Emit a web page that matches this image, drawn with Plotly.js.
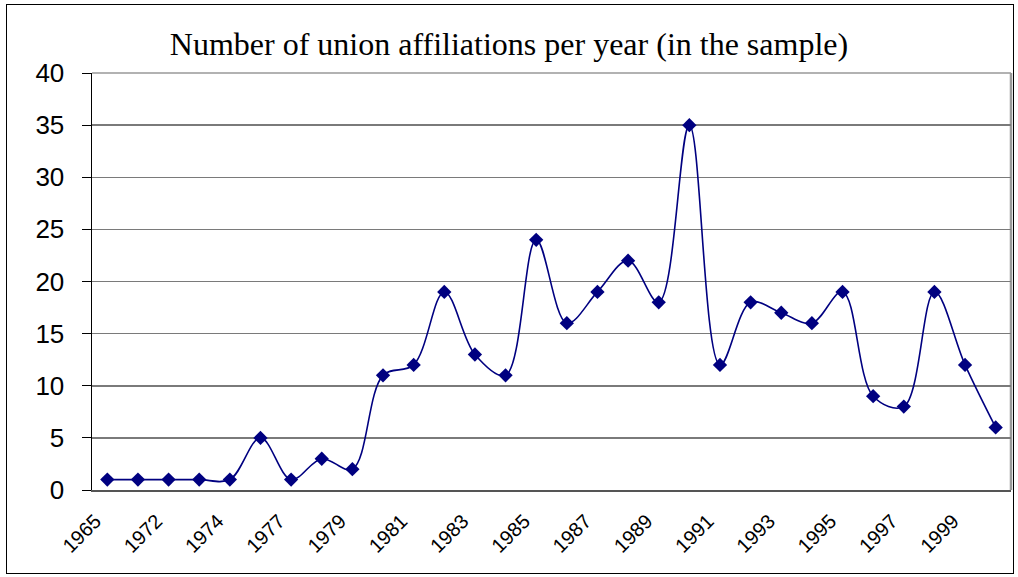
<!DOCTYPE html>
<html>
<head>
<meta charset="utf-8">
<script src="https://cdn.plot.ly/plotly-3.0.1.min.js"></script>
<style>
  html, body { margin: 0; padding: 0; background: #fff; }
  #wrap { position: relative; width: 1018px; height: 577px; }
  #chart { position: absolute; left: 0; top: 0; width: 1018px; height: 577px; }
  #frame { position: absolute; left: 6px; top: 4px; width: 1006px; height: 568px; border: 1.5px solid #000; pointer-events: none; }
</style>
</head>
<body>
<div id="wrap">
  <div id="chart"></div>
  <div id="frame"></div>
</div>
<script>
// Categories (years) — labelled every other category as in the reference
const years = ["1965","1971","1972","1973","1974","1976","1977","1978","1979","1980",
               "1981","1982","1983","1984","1985","1986","1987","1988","1989","1990",
               "1991","1992","1993","1994","1995","1996","1997","1998","1999","2000"];
const affiliations = [1,1,1,1,1,5,1,3,2,11,
                      12,19,13,11,24,16,19,22,18,35,
                      12,18,17,16,19,9,8,19,12,6];
const labelYears = ["1965","1972","1974","1977","1979","1981","1983","1985","1987","1989",
                    "1991","1993","1995","1997","1999"];
const yTicks = [0,5,10,15,20,25,30,35,40];

const navy = "#000080";

const trace = {
  x: years,
  y: affiliations,
  type: "scatter",
  mode: "lines+markers",
  line: { color: navy, width: 1.6, shape: "spline", smoothing: 1 },
  marker: { symbol: "diamond", size: 11, color: navy },
  hoverinfo: "x+y",
  cliponaxis: false
};

const layout = {
  width: 1018,
  height: 577,
  margin: { l: 92, r: 7, t: 73, b: 87 },
  paper_bgcolor: "#fff",
  plot_bgcolor: "#fff",
  showlegend: false,
  title: {
    text: "Number of union affiliations per year (in the sample)",
    font: { family: "Liberation Serif, Times New Roman, serif", size: 32, color: "#000" },
    x: 0.5, xanchor: "center",
    y: 1 - 44/577, yanchor: "middle"
  },
  xaxis: {
    type: "category",
    range: [-0.5, years.length - 0.5],
    ticks: "",
    tickvals: labelYears,
    ticktext: labelYears,
    tickangle: -45,
    ticklabelshift: -12,
    ticklabelstandoff: 10,
    tickfont: { family: "Liberation Sans, Arial, sans-serif", size: 20, color: "#000" },
    showgrid: false,
    showline: true,
    linecolor: "#555",
    linewidth: 1.5,
    zeroline: false,
    fixedrange: true
  },
  xaxis2: {
    overlaying: "x",
    range: [-0.5, years.length - 0.5],
    tickmode: "array",
    tickvals: years.map((_, i) => i - 0.5).concat([years.length - 0.5]),
    ticktext: years.map(() => "").concat([""]),
    ticks: "outside",
    ticklen: 8,
    tickcolor: "#000",
    tickwidth: 1,
    showticklabels: false,
    showgrid: false,
    showline: false,
    zeroline: false,
    anchor: "y",
    side: "bottom",
    fixedrange: true
  },
  yaxis: {
    range: [0, 40],
    tickvals: yTicks,
    ticks: "outside",
    ticklen: 9,
    tickcolor: "#000",
    tickfont: { family: "Liberation Sans, Arial, sans-serif", size: 26, color: "#000" },
    ticklabelstandoff: 12,
    showgrid: true,
    gridcolor: "#7a7a7a",
    gridwidth: 1.5,
    showline: true,
    linecolor: "#000",
    linewidth: 1.5,
    zeroline: false,
    fixedrange: true
  },
  shapes: [
    { type: "line", xref: "paper", yref: "paper", x0: 1, x1: 1, y0: 0, y1: 1,
      line: { color: "#999", width: 2.5 }, layer: "below" },
    { type: "line", xref: "paper", yref: "paper", x0: 0, x1: 1, y0: 1, y1: 1,
      line: { color: "#999", width: 1.5 }, layer: "below" }
  ]
};

Plotly.newPlot("chart", [trace], layout, { displayModeBar: false, staticPlot: true });
</script>
</body>
</html>
